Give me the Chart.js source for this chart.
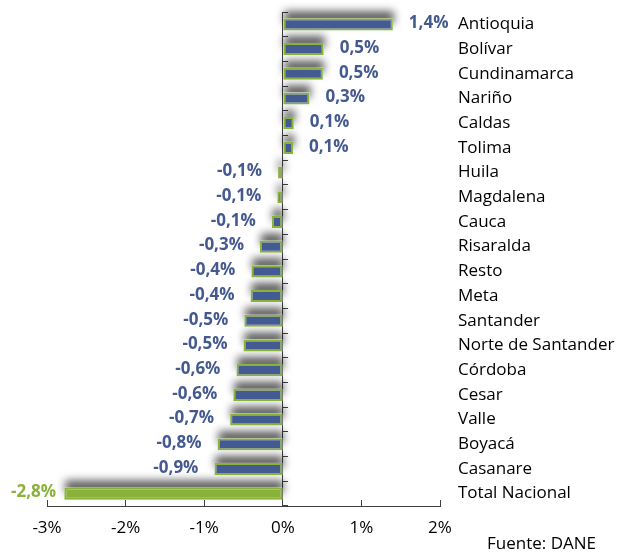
<!DOCTYPE html>
<html>
<head>
<meta charset="utf-8">
<script src="https://cdn.jsdelivr.net/npm/chart.js@4.4.1/dist/chart.umd.min.js"></script>
<style>
    html, body { margin: 0; padding: 0; background: #fff; }
    #wrap { position: relative; width: 637px; height: 552px; }
    #source {
        position: absolute; left: 487px; top: 531px;
        font: 17px 'Open Sans', sans-serif; color: #000; white-space: nowrap;
    }
</style>
</head>
<body>
<div id="wrap">
    <canvas id="chart-regions" width="637" height="552"></canvas>
    <div id="source">Fuente: DANE</div>
</div>
<script>
// Variación por departamento (puntos porcentuales)
const departments = [
    'Antioquia', 'Bolívar', 'Cundinamarca', 'Nariño', 'Caldas', 'Tolima',
    'Huila', 'Magdalena', 'Cauca', 'Risaralda', 'Resto', 'Meta', 'Santander',
    'Norte de Santander', 'Córdoba', 'Cesar', 'Valle', 'Boyacá', 'Casanare',
    'Total Nacional'
];
const contributions = [
    1.40, 0.52, 0.51, 0.34, 0.14, 0.13,
    -0.06, -0.07, -0.14, -0.29, -0.40, -0.41, -0.49,
    -0.50, -0.59, -0.63, -0.67, -0.83, -0.87,
    -2.78
];
const xTicks = [-3, -2, -1, 0, 1, 2];

const BLUE = '#435a93';
const GREEN = '#8ab13a';
const LABEL_BLUE = '#44598f';
const FONT = "'Open Sans', sans-serif";

const isTotal = (i) => departments[i] === 'Total Nacional';

function fmt(v) {
    return (v < 0 ? '-' : '') + Math.abs(v).toFixed(1).replace('.', ',') + '%';
}

// soft grey shadow above each bar
const barShadow = {
    id: 'barShadow',
    beforeDatasetsDraw(chart) {
        const ctx = chart.ctx;
        const meta = chart.getDatasetMeta(0);
        ctx.save();
        ctx.shadowColor = 'rgba(0,0,0,0.65)';
        ctx.shadowBlur = 9;
        ctx.shadowOffsetX = 1;
        ctx.shadowOffsetY = -7;
        ctx.fillStyle = '#fff';
        meta.data.forEach(bar => {
            const p = bar.getProps(['x', 'y', 'base', 'height'], true);
            const left = Math.min(p.x, p.base);
            ctx.fillRect(left, p.y - p.height / 2, Math.abs(p.x - p.base), p.height);
        });
        ctx.restore();
    }
};

// value labels beside bars
const valueLabels = {
    id: 'valueLabels',
    afterDatasetsDraw(chart) {
        const ctx = chart.ctx;
        const meta = chart.getDatasetMeta(0);
        ctx.save();
        ctx.font = 'bold 17px ' + FONT;
        ctx.textBaseline = 'middle';
        meta.data.forEach((bar, i) => {
            const v = contributions[i];
            const text = fmt(v);
            ctx.fillStyle = isTotal(i) ? GREEN : LABEL_BLUE;
            const y = bar.y - 1;
            if (v >= 0) {
                ctx.textAlign = 'left';
                ctx.fillText(text, bar.x + 16, y);
            } else {
                const w = ctx.measureText(text).width;
                let right = bar.x - 16;
                if (right - w < 11) right = 11 + w;
                ctx.textAlign = 'right';
                ctx.fillText(text, right, y);
            }
        });
        ctx.restore();
    }
};

const ctx = document.getElementById('chart-regions').getContext('2d');
new Chart(ctx, {
    type: 'bar',
    data: {
        labels: departments,
        datasets: [{
            data: contributions,
            backgroundColor: departments.map((d, i) => isTotal(i) ? GREEN : BLUE),
            borderColor: GREEN,
            borderWidth: 2,
            borderSkipped: false,
            categoryPercentage: 1,
            barPercentage: 0.49
        }]
    },
    options: {
        indexAxis: 'y',
        responsive: false,
        animation: false,
        layout: { padding: { left: 47, right: 0, top: 12, bottom: 0 } },
        plugins: {
            legend: { display: false },
            tooltip: { enabled: false }
        },
        scales: {
            x: {
                type: 'linear',
                min: -3,
                max: 2,
                afterBuildTicks: (scale) => { scale.ticks = xTicks.map(v => ({ value: v })); },
                afterFit: (scale) => { scale.height = 46; },
                ticks: {
                    color: '#000',
                    padding: 18,
                    font: { family: FONT, size: 17 },
                    callback: (value) => value + '%'
                },
                grid: { drawOnChartArea: false, drawTicks: true, tickLength: -6, color: '#404040' },
                border: { display: true, color: '#404040', width: 1 }
            },
            y: {
                type: 'category',
                position: 'right',
                afterFit: (scale) => {
                    scale.width = 197;
                    scale.paddingTop = 0;
                    scale.paddingBottom = 0;
                },
                ticks: {
                    color: '#000',
                    padding: 18,
                    font: { family: FONT, size: 17 }
                },
                grid: { display: false, drawTicks: false },
                border: { display: false }
            },
            y2: {
                type: 'category',
                labels: departments,
                offset: true,
                position: { x: 0 },
                ticks: { display: false },
                grid: { offset: true, drawOnChartArea: false, drawTicks: true, tickLength: -6, color: '#404040' },
                border: { display: true, color: '#404040', width: 1 }
            }
        }
    },
    plugins: [barShadow, valueLabels]
});
</script>
</body>
</html>
